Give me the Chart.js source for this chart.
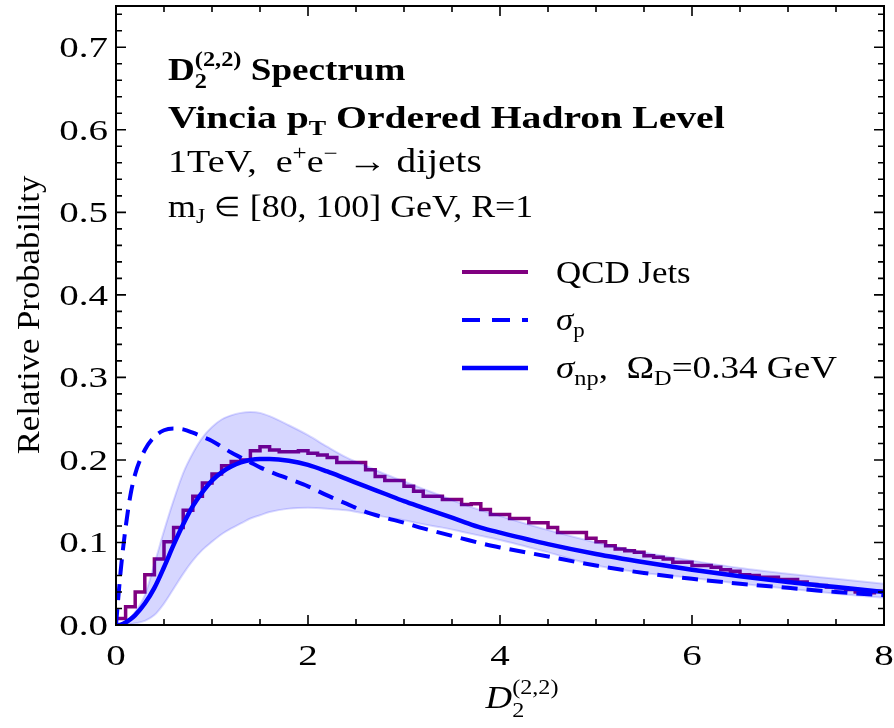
<!DOCTYPE html>
<html>
<head>
<meta charset="utf-8">
<script src="https://cdn.jsdelivr.net/npm/chart.js@4.4.0/dist/chart.umd.min.js"></script>
<style>
  body { margin: 0; background: #fff; }
  canvas { display: block; }
</style>
</head>
<body>
<canvas id="chart" width="894" height="728"></canvas>
<script>
// --- data ---
var xGrid = [0, 0.05, 0.1, 0.15, 0.2,
  0.3, 0.4, 0.5, 0.6, 0.7, 0.8, 0.9, 1.0, 1.1, 1.2, 1.3, 1.4, 1.5, 1.6,
  1.8, 2.0, 2.2, 2.4, 2.6, 2.8, 3.0, 3.2, 3.4, 3.6, 3.8, 4.0,
  4.5, 5.0, 5.5, 6.0, 6.5, 7.0, 7.5, 8.0];

// sigma_np, Omega_D = 0.34 GeV (solid)
var sigmaNp = [0, 0.0005, 0.003, 0.007, 0.012,
  0.026, 0.045, 0.070, 0.097, 0.122, 0.144, 0.161, 0.175, 0.185, 0.192, 0.197, 0.200, 0.201, 0.201,
  0.199, 0.194, 0.186, 0.177, 0.168, 0.159, 0.150, 0.142, 0.134, 0.126, 0.118, 0.112,
  0.098, 0.086, 0.076, 0.067, 0.059, 0.052, 0.046, 0.040];

// sigma_p (dashed)
var sigmaP = [0, 0.067, 0.118, 0.157, 0.183,
  0.212, 0.228, 0.236, 0.238, 0.237, 0.233, 0.228, 0.223, 0.216, 0.209, 0.203, 0.197, 0.191, 0.186,
  0.177, 0.168, 0.157, 0.147, 0.137, 0.130, 0.124, 0.117, 0.111, 0.105, 0.099, 0.094,
  0.083, 0.072, 0.063, 0.056, 0.050, 0.045, 0.040, 0.036];

// uncertainty band
var bandHi = [0, 0.001, 0.004, 0.009, 0.016,
  0.036, 0.074, 0.114, 0.151, 0.184, 0.208, 0.227, 0.240, 0.249, 0.254, 0.257, 0.258, 0.257, 0.253,
  0.242, 0.230, 0.216, 0.203, 0.193, 0.183, 0.174, 0.165, 0.156, 0.147, 0.139, 0.132,
  0.115, 0.100, 0.088, 0.078, 0.069, 0.062, 0.056, 0.050];
var bandLo = [0, 0, 0.0005, 0.001, 0.002,
  0.005, 0.012, 0.026, 0.044, 0.062, 0.078, 0.091, 0.101, 0.110, 0.117, 0.123, 0.129, 0.133, 0.137,
  0.141, 0.142, 0.141, 0.139, 0.135, 0.131, 0.127, 0.122, 0.118, 0.113, 0.108, 0.103,
  0.088, 0.072, 0.063, 0.057, 0.050, 0.044, 0.038, 0.033];

// QCD jets histogram, bins of 0.1 from 0 to 8
var binWidth = 0.1;
var qcdJets = [
  0.008, 0.022, 0.040, 0.061, 0.080, 0.101, 0.118, 0.139, 0.156, 0.172,
  0.183, 0.193, 0.198, 0.200, 0.211, 0.216, 0.212, 0.210, 0.210, 0.211,
  0.208, 0.206, 0.203, 0.197, 0.197, 0.197, 0.188, 0.180, 0.175, 0.175,
  0.168, 0.162, 0.156, 0.156, 0.152, 0.152, 0.146, 0.147, 0.140, 0.134,
  0.134, 0.129, 0.129, 0.124, 0.124, 0.118, 0.112, 0.112, 0.112, 0.105,
  0.101, 0.096, 0.092, 0.090, 0.088, 0.084, 0.082, 0.080, 0.076, 0.076,
  0.072, 0.072, 0.070, 0.067, 0.065, 0.061, 0.060, 0.058, 0.058, 0.055,
  0.055, 0.052, 0.049, 0.048, 0.046, 0.045, 0.043, 0.040, 0.039, 0.041];

var xTicks = [0, 2, 4, 6, 8];
var yTicks = [0, 0.1, 0.2, 0.3, 0.4, 0.5, 0.6, 0.7];

// --- helpers ---
var FONT = '"Liberation Serif", "Times New Roman", serif';
function f(style, size) { return style + ' ' + size + 'px ' + FONT; }

function pts(xv, yv) {
  return xv.map(function (x, i) { return { x: x, y: yv[i] }; });
}

// point i sits on the left edge of bin i; 'before' keeps its value up to the next edge
var histPts = [{ x: 0, y: 0 }];
for (var i = 0; i < qcdJets.length; i++) {
  histPts.push({ x: i * binWidth, y: qcdJets[i] });
}
histPts.push({ x: qcdJets.length * binWidth, y: qcdJets[qcdJets.length - 1] });

// text made of pieces (sub/superscripts); sx stretches it sideways
function richWidth(ctx, parts) {
  var w = 0;
  parts.forEach(function (p) {
    ctx.font = p.font;
    if (p.sub !== undefined) {
      w += Math.max(ctx.measureText(p.sub).width, ctx.measureText(p.sup).width);
    } else {
      w += ctx.measureText(p.t).width;
    }
  });
  return w;
}
function richText(ctx, x, y, parts, sx, align) {
  ctx.save();
  ctx.translate(x, y);
  ctx.scale(sx, 1);
  ctx.textAlign = 'left';
  ctx.textBaseline = 'alphabetic';
  var cx = 0;
  if (align === 'center') cx = -richWidth(ctx, parts) / 2;
  parts.forEach(function (p) {
    ctx.font = p.font;
    if (p.sub !== undefined) {
      ctx.fillText(p.sub, cx, p.dySub);
      ctx.fillText(p.sup, cx, p.dySup);
      cx += Math.max(ctx.measureText(p.sub).width, ctx.measureText(p.sup).width);
    } else {
      ctx.fillText(p.t, cx, p.dy || 0);
      cx += ctx.measureText(p.t).width;
    }
  });
  ctx.restore();
}

var framePlugin = {
  id: 'frame',
  afterDraw: function (chart) {
    var ctx = chart.ctx, a = chart.chartArea;
    var xs = chart.scales.x, ys = chart.scales.y;
    ctx.save();
    ctx.strokeStyle = '#000';
    ctx.fillStyle = '#000';

    // tick marks on all four sides, pointing in
    ctx.lineWidth = 1.6;
    ctx.beginPath();
    for (var k = 0; k <= 16; k++) {
      var len = (k % 4 === 0) ? 10 : 6;
      var px = xs.getPixelForValue(k * 0.5);
      ctx.moveTo(px, a.bottom); ctx.lineTo(px, a.bottom - len);
      ctx.moveTo(px, a.top); ctx.lineTo(px, a.top + len);
    }
    for (var j = 0; j <= 37; j++) {
      var ln = (j % 5 === 0) ? 10 : 6;
      var py = ys.getPixelForValue(j * 0.02);
      ctx.moveTo(a.left, py); ctx.lineTo(a.left + ln, py);
      ctx.moveTo(a.right, py); ctx.lineTo(a.right - ln, py);
    }
    ctx.stroke();

    ctx.lineWidth = 2;
    ctx.strokeRect(a.left, a.top, a.right - a.left, a.bottom - a.top);

    // tick labels
    ctx.font = f('', 30);
    xTicks.forEach(function (v) {
      ctx.save();
      ctx.translate(xs.getPixelForValue(v), 665);
      ctx.scale(1.3, 1);
      ctx.textAlign = 'center';
      ctx.fillText(String(v), 0, 0);
      ctx.restore();
    });
    yTicks.forEach(function (v) {
      ctx.save();
      ctx.translate(108, ys.getPixelForValue(v) + 10);
      ctx.scale(1.3, 1);
      ctx.textAlign = 'right';
      ctx.fillText(v.toFixed(1), 0, 0);
      ctx.restore();
    });

    // axis titles
    ctx.save();
    ctx.translate(39, 315);
    ctx.rotate(-Math.PI / 2);
    ctx.font = f('', 31);
    ctx.textAlign = 'center';
    ctx.scale(1.12, 1);
    ctx.fillText('Relative Probability', 0, 0);
    ctx.restore();

    richText(ctx, 522, 708, [
      { t: 'D', font: f('italic', 32) },
      { sub: '2', sup: '(2,2)', font: f('', 21), dySub: 9, dySup: -14 }
    ], 1.15, 'center');

    // text block
    var sub = f('bold', 21);
    richText(ctx, 168, 80, [
      { t: 'D', font: f('bold', 32) },
      { sub: '2', sup: '(2,2)', font: sub, dySub: 8, dySup: -14 },
      { t: ' Spectrum', font: f('bold', 32) }
    ], 1.16);
    richText(ctx, 168, 128, [
      { t: 'Vincia p', font: f('bold', 32) },
      { t: 'T', font: sub, dy: 7 },
      { t: ' Ordered Hadron Level', font: f('bold', 32) }
    ], 1.24);
    richText(ctx, 168, 172, [
      { t: '1TeV,  e', font: f('', 32) },
      { t: '+', font: f('', 21), dy: -12 },
      { t: 'e', font: f('', 32) },
      { t: '\u2212', font: f('', 21), dy: -12 },
      { t: ' \u2192 dijets', font: f('', 33) }
    ], 1.19);
    richText(ctx, 168, 217, [
      { t: 'm', font: f('', 32) },
      { t: 'J', font: f('', 21), dy: 6 },
      { t: ' ', font: f('', 32) },
      { t: '\u2208', font: f('', 27), dy: -1 },
      { t: ' [80, 100] GeV, R=1', font: f('', 32) }
    ], 1.12);

    // legend
    ctx.lineWidth = 4;
    ctx.strokeStyle = '#800080';
    ctx.beginPath(); ctx.moveTo(462, 272); ctx.lineTo(528, 272); ctx.stroke();
    ctx.strokeStyle = '#0000ff';
    ctx.setLineDash([18, 12]);
    ctx.beginPath(); ctx.moveTo(462, 320); ctx.lineTo(528, 320); ctx.stroke();
    ctx.setLineDash([]);
    ctx.lineWidth = 4.5;
    ctx.beginPath(); ctx.moveTo(462, 368); ctx.lineTo(528, 368); ctx.stroke();

    richText(ctx, 556, 283, [{ t: 'QCD Jets', font: f('', 32) }], 1.09);
    richText(ctx, 556, 330, [
      { t: '\u03c3', font: f('italic', 32) },
      { t: 'p', font: f('', 21), dy: 7 }
    ], 1.09);
    richText(ctx, 556, 378, [
      { t: '\u03c3', font: f('italic', 32) },
      { t: 'np', font: f('', 21), dy: 7 },
      { t: ',  \u03a9', font: f('', 32) },
      { t: 'D', font: f('', 21), dy: 7 },
      { t: '=0.34 GeV', font: f('', 32) }
    ], 1.16);

    ctx.restore();
  }
};

var ctx = document.getElementById('chart');
var chart = new Chart(ctx, {
  type: 'line',
  data: {
    datasets: [
      {
        label: 'QCD Jets', data: histPts, stepped: 'before',
        borderColor: '#800080', borderWidth: 3.5, pointRadius: 0, fill: false, order: 5
      },
      {
        label: 'sigma_p', data: pts(xGrid, sigmaP),
        borderColor: '#0000ff', borderWidth: 4, borderDash: [16, 9],
        pointRadius: 0, fill: false, cubicInterpolationMode: 'monotone', order: 4
      },
      {
        label: 'band hi', data: pts(xGrid, bandHi),
        borderColor: 'rgba(0,0,255,0.15)', borderWidth: 2,
        backgroundColor: 'rgba(0,0,255,0.16)', fill: '+1',
        pointRadius: 0, cubicInterpolationMode: 'monotone', order: 3
      },
      {
        label: 'band lo', data: pts(xGrid, bandLo),
        borderColor: 'rgba(0,0,255,0.15)', borderWidth: 2, fill: false,
        pointRadius: 0, cubicInterpolationMode: 'monotone', order: 3
      },
      {
        label: 'sigma_np', data: pts(xGrid, sigmaNp),
        borderColor: '#0000ff', borderWidth: 4.5, fill: false,
        pointRadius: 0, cubicInterpolationMode: 'monotone', order: 1
      }
    ]
  },
  options: {
    responsive: false,
    animation: false,
    layout: { padding: { left: 0, right: 10, top: 6, bottom: 0 } },
    plugins: { legend: { display: false }, tooltip: { enabled: false } },
    scales: {
      x: {
        type: 'linear', min: 0, max: 8,
        grid: { display: false }, border: { display: false },
        ticks: { display: false },
        afterBuildTicks: function (s) { s.ticks = xTicks.map(function (v) { return { value: v }; }); },
        afterFit: function (s) { s.height = 103; }
      },
      y: {
        type: 'linear', min: 0, max: 0.75,
        grid: { display: false }, border: { display: false },
        ticks: { display: false },
        afterBuildTicks: function (s) { s.ticks = yTicks.map(function (v) { return { value: v }; }); },
        afterFit: function (s) { s.width = 116; }
      }
    }
  },
  plugins: [framePlugin]
});
</script>
</body>
</html>
